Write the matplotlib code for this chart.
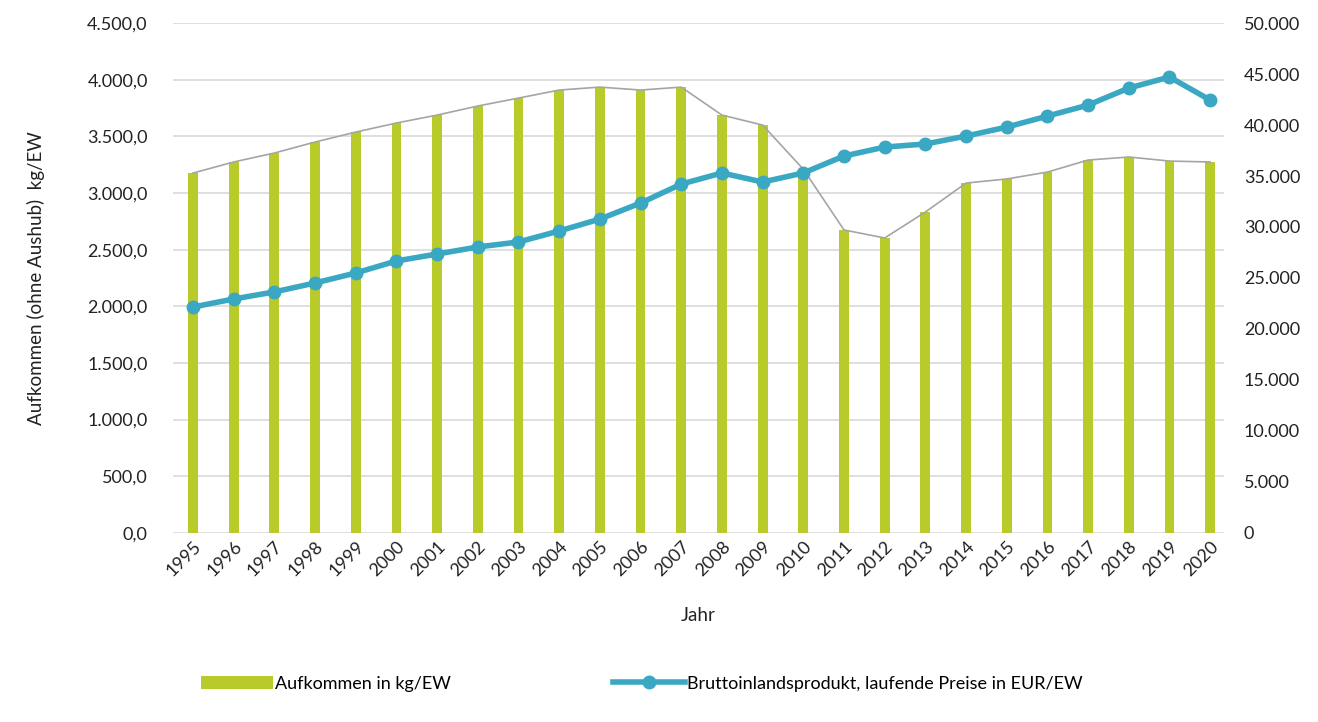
import numpy as np
import matplotlib.pyplot as plt
from matplotlib.ticker import FuncFormatter

plt.rcParams['font.family'] = ['Lato', 'DejaVu Sans']

years = list(range(1995, 2021))
aufkommen = [3176, 3274, 3353, 3450, 3538, 3618, 3688, 3768, 3838, 3909,
             3935, 3909, 3935, 3688, 3600, 3210, 2674, 2603, 2832, 3088,
             3124, 3185, 3291, 3318, 3282, 3274]
bip = [22150, 22940, 23630, 24510, 25490, 26670, 27350, 28040, 28530, 29610,
       30780, 32350, 34210, 35300, 34410, 35300, 36960, 37840, 38140, 38920,
       39800, 40880, 41960, 43630, 44710, 42450]

green = '#B8CB2B'
teal = '#3AA8C3'

fig = plt.figure(figsize=(13.18, 7.22), dpi=100)
ax = fig.add_axes([0.131, 0.262, 0.798, 0.706])
ax2 = ax.twinx()

x = np.arange(len(years))
bars = ax.bar(x, aufkommen, width=0.24, color=green, zorder=2,
              label='Aufkommen in kg/EW')
ax.plot(x, aufkommen, color='#A5A5A5', lw=1.2, zorder=3)
line, = ax2.plot(x, bip, color=teal, lw=4, marker='o', markersize=9,
                 zorder=4, label='Bruttoinlandsprodukt, laufende Preise in EUR/EW')

ax.set_ylim(0, 4500)
ax.set_yticks(np.arange(0, 4501, 500))
ax.yaxis.set_major_formatter(FuncFormatter(
    lambda v, p: f'{v:,.1f}'.replace(',', 'X').replace('.', ',').replace('X', '.')))
ax2.set_ylim(0, 50000)
ax2.set_yticks(np.arange(0, 50001, 5000))
ax2.yaxis.set_major_formatter(FuncFormatter(
    lambda v, p: f'{v:,.0f}'.replace(',', '.')))

ax.set_xlim(-0.5, 25.35)
ax.set_xticks(x)
ax.set_xticklabels([str(y) for y in years], rotation=45, ha='right',
                   rotation_mode='anchor', fontsize=12.5)
ax.grid(axis='y', color='#D9D9D9', lw=1.2, zorder=0)
ax.set_axisbelow(True)

for a in (ax, ax2):
    for s in a.spines.values():
        s.set_visible(False)
    a.tick_params(length=0, labelsize=13, colors='#222222')
ax.tick_params(axis='y', pad=18)
ax2.tick_params(axis='y', pad=14)
ax.tick_params(axis='x', pad=4)

ax.set_xlabel('Jahr', fontsize=13.5, labelpad=20, color='#222222')
ax.set_ylabel('Aufkommen (ohne Aushub)  kg/EW', fontsize=13.5, labelpad=30,
              color='#222222')

fig.legend(handles=[bars, line], loc='center', ncol=2,
           bbox_to_anchor=(0.487, 0.053), frameon=False, fontsize=13,
           columnspacing=9, handlelength=4, handletextpad=0.1)

fig.savefig('out.png', dpi=100)
